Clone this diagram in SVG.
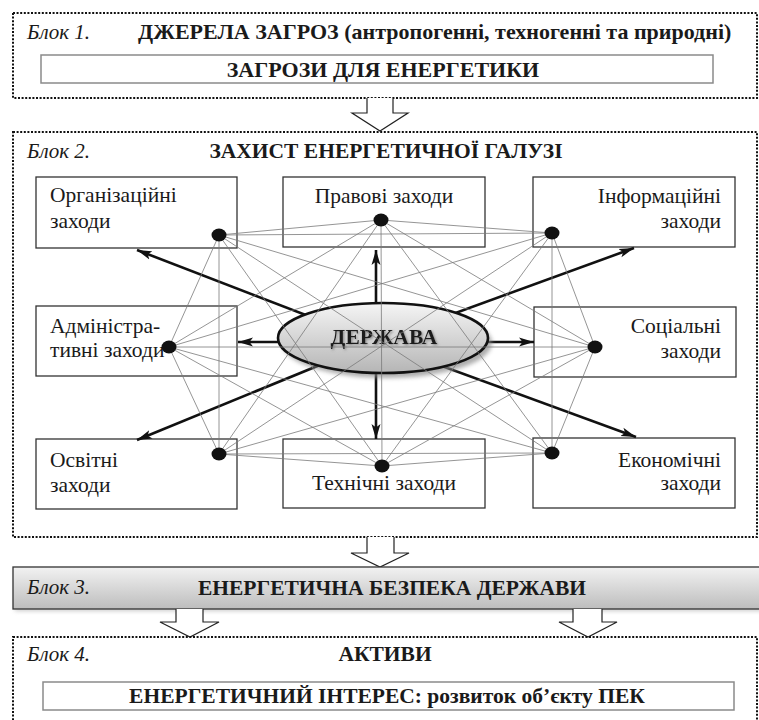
<svg xmlns="http://www.w3.org/2000/svg" width="759" height="720" viewBox="0 0 759 720" font-family="Liberation Serif, Times New Roman, serif">
<defs>
<style>
text{font-family:'Liberation Serif','Times New Roman',serif;fill:#1a1a1a}
.blk{font-size:21px;font-style:italic}
.ttl{font-size:21.5px;font-weight:bold}
.big{font-size:22px}
.nt{font-size:21.5px}
.dot{fill:none;stroke:#111;stroke-width:2;stroke-dasharray:2 1.6}
.inner{fill:#fff;stroke:#8a8a8a;stroke-width:1.5}
.box{fill:#fff;stroke:#333;stroke-width:1.3}
.web line{stroke:#7a7a7a;stroke-width:0.8}
.thick line{stroke:#111;stroke-width:2.6;marker-end:url(#ah)}
.barrow{fill:#fff;stroke:#222;stroke-width:1.2}
.pt{fill:#111}
</style>
<marker id="ah" markerUnits="userSpaceOnUse" markerWidth="16" markerHeight="10" refX="15" refY="5" orient="auto">
<path d="M0,0.5 L15,5 L0,9.5 L3.5,5 z" fill="#111"/>
</marker>
<linearGradient id="eg" x1="0" y1="0" x2="0" y2="1">
<stop offset="0" stop-color="#f5f5f5"/>
<stop offset="1" stop-color="#b5b5b5"/>
</linearGradient>
<linearGradient id="bg" x1="0" y1="0" x2="0" y2="1">
<stop offset="0" stop-color="#f2f2f2"/>
<stop offset="1" stop-color="#bdbdbd"/>
</linearGradient>
<filter id="blur" x="-10%" y="-20%" width="120%" height="140%">
<feGaussianBlur stdDeviation="2"/>
</filter>
<filter id="tsh" x="-5%" y="-20%" width="110%" height="140%">
<feDropShadow dx="1.2" dy="1.2" stdDeviation="0.8" flood-color="#777" flood-opacity="0.8"/>
</filter>
</defs>
<rect width="759" height="720" fill="#fff"/>

<g id="block1">
<rect class="dot" x="13" y="13" width="744" height="85"/>
<text class="blk" x="27" y="39">Блок 1.</text>
<text class="ttl big" x="138" y="39">ДЖЕРЕЛА ЗАГРОЗ (антропогенні, техногенні та природні)</text>
<rect class="inner" x="41" y="55" width="672" height="28"/>
<text class="ttl big" x="383" y="77" text-anchor="middle">ЗАГРОЗИ ДЛЯ ЕНЕРГЕТИКИ</text>
</g>

<g id="arrow1">
<path class="barrow" d="M367,98 V113 H352 L380,131 L408,113 H393 V98"/>
</g>

<g id="block2">
<rect class="dot" x="13" y="132" width="744" height="405"/>
<text class="blk" x="27" y="158">Блок 2.</text>
<text class="ttl" x="386" y="158" text-anchor="middle">ЗАХИСТ ЕНЕРГЕТИЧНОЇ ГАЛУЗІ</text>
</g>

<g id="node-org">
<rect class="box" x="36" y="177" width="201" height="71"/>
<text class="nt" x="50" y="202">Організаційні</text>
<text class="nt" x="50" y="228">заходи</text>
</g>
<g id="node-prav">
<rect class="box" x="283" y="177" width="202" height="70"/>
<text class="nt" x="384" y="203" text-anchor="middle">Правові заходи</text>
</g>
<g id="node-inf">
<rect class="box" x="533" y="177" width="202" height="70"/>
<text class="nt" x="721" y="203" text-anchor="end">Інформаційні</text>
<text class="nt" x="721" y="228" text-anchor="end">заходи</text>
</g>
<g id="node-adm">
<rect class="box" x="36" y="306" width="201" height="70"/>
<text class="nt" x="50" y="333">Адміністра-</text>
<text class="nt" x="50" y="357">тивні заходи</text>
</g>
<g id="node-soc">
<rect class="box" x="534" y="307" width="202" height="70"/>
<text class="nt" x="721" y="333" text-anchor="end">Соціальні</text>
<text class="nt" x="721" y="358" text-anchor="end">заходи</text>
</g>
<g id="node-osv">
<rect class="box" x="36" y="439" width="201" height="70"/>
<text class="nt" x="50" y="467">Освітні</text>
<text class="nt" x="50" y="492">заходи</text>
</g>
<g id="node-tech">
<rect class="box" x="283" y="439" width="202" height="69"/>
<text class="nt" x="384" y="490" text-anchor="middle">Технічні заходи</text>
</g>
<g id="node-ekon">
<rect class="box" x="533" y="438" width="202" height="70"/>
<text class="nt" x="721" y="467" text-anchor="end">Економічні</text>
<text class="nt" x="721" y="490" text-anchor="end">заходи</text>
</g>

<g id="connectors">
<g class="thick">
<line x1="376" y1="342" x2="137" y2="250"/>
<line x1="376" y1="342" x2="376" y2="250"/>
<line x1="376" y1="342" x2="634" y2="248"/>
<line x1="376" y1="342" x2="238" y2="342"/>
<line x1="376" y1="342" x2="534" y2="342"/>
<line x1="376" y1="342" x2="137" y2="440"/>
<line x1="376" y1="342" x2="376" y2="439"/>
<line x1="376" y1="342" x2="636" y2="437"/>
</g>
</g>

<g id="node-derzhava">
<ellipse cx="387" cy="343" rx="105" ry="35" fill="#8a8a8a" opacity="0.7" filter="url(#blur)"/>
<ellipse cx="383" cy="338" rx="105" ry="35" fill="url(#eg)" stroke="#111" stroke-width="2.6"/>
<text class="ttl" x="384" y="344" text-anchor="middle" filter="url(#tsh)">ДЕРЖАВА</text>
</g>

<g id="web" class="web">
<line x1="219" y1="235" x2="381" y2="220"/>
<line x1="219" y1="235" x2="552" y2="233"/>
<line x1="219" y1="235" x2="169" y2="347"/>
<line x1="219" y1="235" x2="595" y2="347"/>
<line x1="219" y1="235" x2="219" y2="454"/>
<line x1="219" y1="235" x2="382" y2="466"/>
<line x1="219" y1="235" x2="552" y2="453"/>
<line x1="381" y1="220" x2="552" y2="233"/>
<line x1="381" y1="220" x2="169" y2="347"/>
<line x1="381" y1="220" x2="595" y2="347"/>
<line x1="381" y1="220" x2="219" y2="454"/>
<line x1="381" y1="220" x2="382" y2="466"/>
<line x1="381" y1="220" x2="552" y2="453"/>
<line x1="552" y1="233" x2="169" y2="347"/>
<line x1="552" y1="233" x2="595" y2="347"/>
<line x1="552" y1="233" x2="219" y2="454"/>
<line x1="552" y1="233" x2="382" y2="466"/>
<line x1="552" y1="233" x2="552" y2="453"/>
<line x1="169" y1="347" x2="595" y2="347"/>
<line x1="169" y1="347" x2="219" y2="454"/>
<line x1="169" y1="347" x2="382" y2="466"/>
<line x1="169" y1="347" x2="552" y2="453"/>
<line x1="595" y1="347" x2="219" y2="454"/>
<line x1="595" y1="347" x2="382" y2="466"/>
<line x1="595" y1="347" x2="552" y2="453"/>
<line x1="219" y1="454" x2="382" y2="466"/>
<line x1="219" y1="454" x2="552" y2="453"/>
<line x1="382" y1="466" x2="552" y2="453"/>
</g>

<g id="web-dots">
<ellipse class="pt" cx="219" cy="235" rx="7.5" ry="6.5"/>
<ellipse class="pt" cx="381" cy="220" rx="7.5" ry="6.5"/>
<ellipse class="pt" cx="552" cy="233" rx="7.5" ry="6.5"/>
<ellipse class="pt" cx="169" cy="347" rx="7.5" ry="6.5"/>
<ellipse class="pt" cx="595" cy="347" rx="7.5" ry="6.5"/>
<ellipse class="pt" cx="219" cy="454" rx="7.5" ry="6.5"/>
<ellipse class="pt" cx="382" cy="466" rx="7.5" ry="6.5"/>
<ellipse class="pt" cx="552" cy="453" rx="7.5" ry="6.5"/>
</g>

<g id="arrow2">
<path class="barrow" d="M367,537 V553 H351 L380,567 L409,553 H394 V537"/>
</g>

<g id="block3">
<rect x="15" y="570" width="750" height="41" fill="#999" opacity="0.5" filter="url(#blur)"/>
<rect x="13" y="567" width="750" height="42" fill="url(#bg)" stroke="#333" stroke-width="1.3"/>
<text class="blk" x="27" y="594">Блок 3.</text>
<text class="ttl" x="392" y="595" text-anchor="middle">ЕНЕРГЕТИЧНА БЕЗПЕКА ДЕРЖАВИ</text>
</g>

<g id="arrow3">
<path class="barrow" d="M176,609 V622 H160 L190,637 L219,622 H203 V609"/>
</g>
<g id="arrow4">
<path class="barrow" d="M573,609 V622 H559 L588,637 L617,622 H602 V609"/>
</g>

<g id="block4">
<rect class="dot" x="13" y="637" width="744" height="95"/>
<text class="blk" x="27" y="661">Блок 4.</text>
<text class="ttl" x="385" y="661" text-anchor="middle">АКТИВИ</text>
<rect class="inner" x="43" y="682" width="691" height="28"/>
<text class="ttl" x="387" y="703" text-anchor="middle">ЕНЕРГЕТИЧНИЙ ІНТЕРЕС: розвиток об’єкту ПЕК</text>
</g>
</svg>
